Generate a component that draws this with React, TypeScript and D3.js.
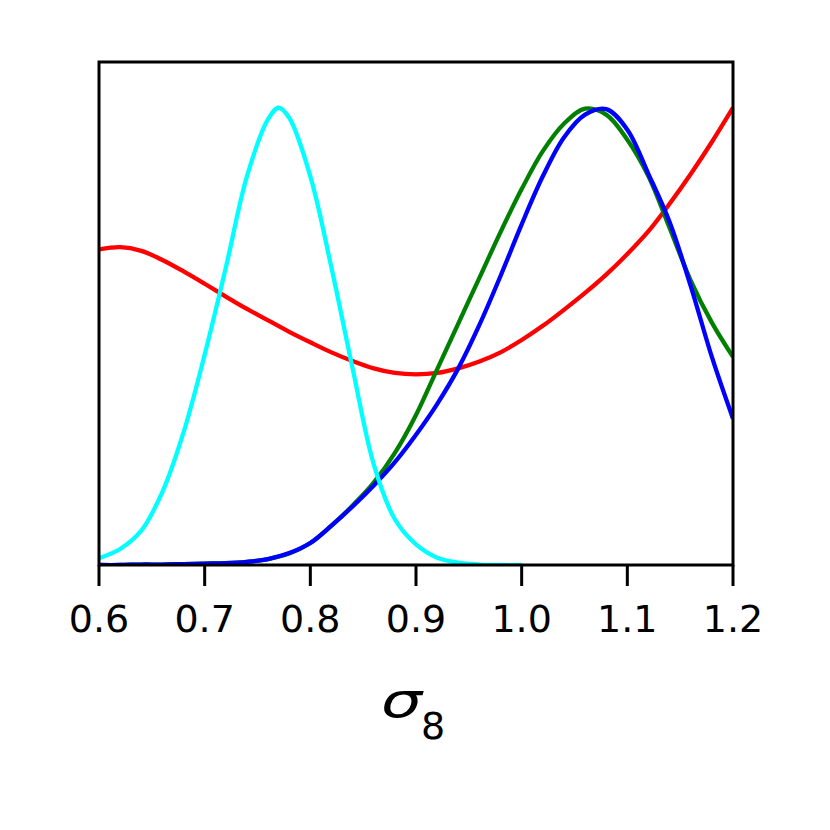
import React from "react";
import * as d3 from "d3";

// sigma_8 grid shared by all curves
const sigma8 = [
  0.6, 0.62, 0.64, 0.66, 0.68, 0.7, 0.72, 0.74, 0.76, 0.78, 0.8, 0.82, 0.84, 0.86, 0.88, 0.9,
  0.92, 0.94, 0.96, 0.98, 1.0, 1.02, 1.04, 1.06, 1.08, 1.1, 1.12, 1.14, 1.16, 1.18, 1.2,
];

const redPdf = [
  0.69, 0.695, 0.687, 0.667, 0.642, 0.615, 0.587, 0.56, 0.535, 0.51, 0.487, 0.465, 0.446, 0.43,
  0.42, 0.417, 0.42, 0.43, 0.445, 0.465, 0.492, 0.523, 0.558, 0.595, 0.635, 0.68, 0.73, 0.79,
  0.855, 0.925, 1.0,
];

const greenPdf = [
  0.0, 0.0, 0.001, 0.001, 0.002, 0.003, 0.004, 0.007, 0.013, 0.025, 0.048, 0.086, 0.13, 0.18,
  0.245, 0.328, 0.428, 0.528, 0.628, 0.728, 0.822, 0.905, 0.965, 0.998, 0.985, 0.93, 0.85, 0.737,
  0.622, 0.53, 0.455,
];

const bluePdf = [
  0.0, 0.0, 0.001, 0.001, 0.002, 0.003, 0.004, 0.007, 0.013, 0.026, 0.048, 0.086, 0.128, 0.174,
  0.225, 0.285, 0.352, 0.43, 0.525, 0.632, 0.745, 0.85, 0.935, 0.985, 0.997, 0.952, 0.855, 0.75,
  0.61, 0.455, 0.32,
];

// cyan ends a bit before 1.0 where it has fallen to zero
const cyanX = [
  0.6, 0.62, 0.64, 0.66, 0.68, 0.7, 0.72, 0.74, 0.76, 0.77, 0.78, 0.8, 0.82, 0.84, 0.86, 0.88,
  0.9, 0.92, 0.94, 0.96, 0.98, 1.0,
];
const cyanPdf = [
  0.015, 0.035, 0.075, 0.16, 0.29, 0.46, 0.65, 0.85, 0.975, 1.0, 0.978, 0.85, 0.65, 0.43, 0.22,
  0.1, 0.045, 0.016, 0.005, 0.001, 0.0, 0.0,
];

const xTicks = [0.6, 0.7, 0.8, 0.9, 1.0, 1.1, 1.2];

export default function App() {
  const width = 830;
  const height = 830;
  const left = 99;
  const right = 733;
  const top = 62;
  const bottom = 565;

  const x = d3.scaleLinear().domain([0.6, 1.2]).range([left, right]);
  const y = d3.scaleLinear().domain([0, 1.1]).range([bottom, top]);

  const line = d3
    .line<[number, number]>()
    .x((d) => x(d[0]))
    .y((d) => y(Math.max(0, d[1])))
    .curve(d3.curveCatmullRom.alpha(0.5));

  const zip = (xs: number[], ys: number[]) => xs.map((v, i) => [v, ys[i]] as [number, number]);

  // drawing order: red, green, blue, cyan on top
  const series = [
    { color: "#ff0000", pts: zip(sigma8, redPdf) },
    { color: "#008000", pts: zip(sigma8, greenPdf) },
    { color: "#0000ff", pts: zip(sigma8, bluePdf) },
    { color: "#00ffff", pts: zip(cyanX, cyanPdf) },
  ];

  return (
    <svg
      width={width}
      height={height}
      style={{ position: "absolute", left: 0, top: 0, background: "#fff" }}
      fontFamily="DejaVu Sans"
    >
      <defs>
        <clipPath id="plotArea">
          <rect x={left} y={top} width={right - left} height={bottom - top} />
        </clipPath>
      </defs>
      <g clipPath="url(#plotArea)">
        {series.map((s, i) => (
          <path
            key={i}
            d={line(s.pts) ?? ""}
            fill="none"
            stroke={s.color}
            strokeWidth={4.3}
            strokeLinejoin="round"
          />
        ))}
      </g>
      <rect
        x={left}
        y={top}
        width={right - left}
        height={bottom - top}
        fill="none"
        stroke="#000"
        strokeWidth={3}
      />
      {xTicks.map((t) => (
        <g key={t} transform={`translate(${x(t)},0)`}>
          <line y1={bottom} y2={bottom + 21} stroke="#000" strokeWidth={3} />
          <text y={632} textAnchor="middle" fontSize={38} fill="#000">
            {t.toFixed(1)}
          </text>
        </g>
      ))}
      <text
        transform="translate(381,717) scale(1.35,1)"
        fontSize={48}
        fontStyle="italic"
        fill="#000"
      >
        σ
      </text>
      <text x={421} y={739} fontSize={38} fill="#000">
        8
      </text>
    </svg>
  );
}
